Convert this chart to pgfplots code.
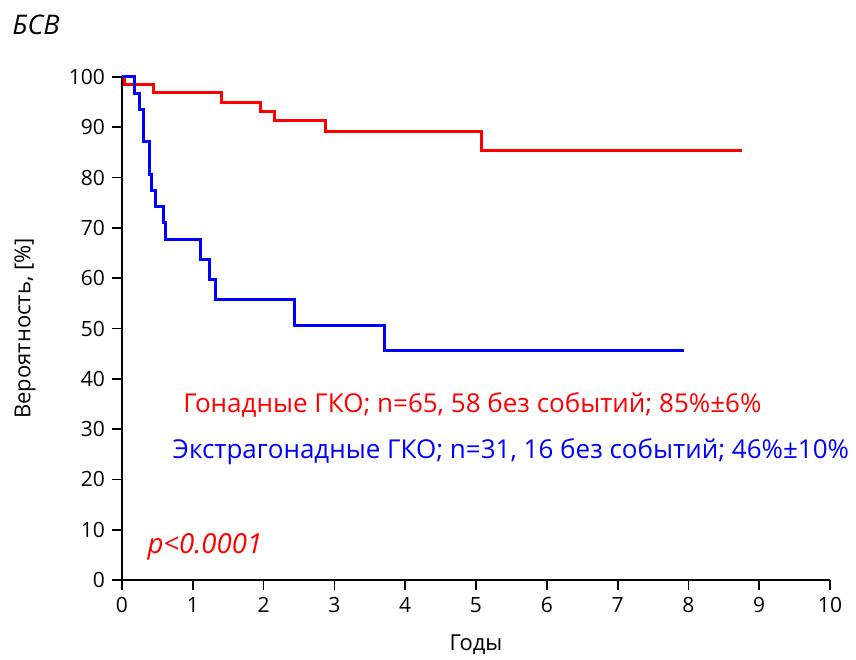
\documentclass[border=0pt]{standalone}
\usepackage{pgfplots}
\pgfplotsset{compat=1.18}
\usepackage{fontspec}
\setmainfont{Open Sans}
\begin{document}
\begin{tikzpicture}
\begin{axis}[
  at={(0,0)}, anchor=south west,
  scale only axis, width=354pt, height=251.5pt,
  xmin=0, xmax=10, ymin=0, ymax=100,
  axis x line*=bottom, axis y line*=left,
  axis line style={line width=0.9pt, black},
  xtick={0,1,...,10}, ytick={0,10,...,100},
  tick align=outside, major tick length=5pt,
  tick style={line width=0.9pt, black},
  /pgf/number format/assume math mode=true,
  ticklabel style={font=\fontsize{10.5}{12}\selectfont},
  xlabel={Годы}, ylabel={Вероятность, [\%]},
  label style={font=\fontsize{11}{13}\selectfont},
  xlabel style={at={(axis description cs:0.5,-0.129)}, anchor=center},
  ylabel style={at={(axis description cs:-0.137,0.5)}, anchor=center},
  clip=false,
]
\addplot[const plot, red, line width=1.5pt] coordinates {
(0,100) (0.04,98.5) (0.45,96.9) (1.41,95.0) (1.96,93.1) (2.15,91.3) (2.87,89.2) (5.08,85.4) (8.76,85.4)};
\addplot[const plot, blue, line width=1.5pt] coordinates {
(0,100) (0.17,96.8) (0.245,93.5) (0.31,87.1) (0.385,80.6) (0.42,77.4) (0.475,74.2) (0.59,71.0) (0.62,67.7) (1.11,63.7) (1.23,59.7) (1.32,55.7) (2.43,50.6) (3.71,45.6) (7.94,45.6)};
\node[anchor=west, red, font=\fontsize{13}{15}\selectfont, inner sep=0pt] at (axis cs:0.86,34.8) {Гонадные ГКО; n=65, 58 без событий; 85\%±6\%};
\node[anchor=west, blue, font=\fontsize{13}{15}\selectfont, inner sep=0pt] at (axis cs:0.71,25.6) {Экстрагонадные ГКО; n=31, 16 без событий; 46\%±10\%};
\node[red, font=\itshape\fontsize{13.8}{15}\selectfont] at (axis cs:1.17,6.6) {p<0.0001};
\end{axis}
\node[font=\itshape\fontsize{13.5}{15}\selectfont] at (-43pt,277.5pt) {БСВ};
\pgfresetboundingbox
\path (-61pt,-39.5pt) rectangle (367pt,290pt);
\end{tikzpicture}
\end{document}
